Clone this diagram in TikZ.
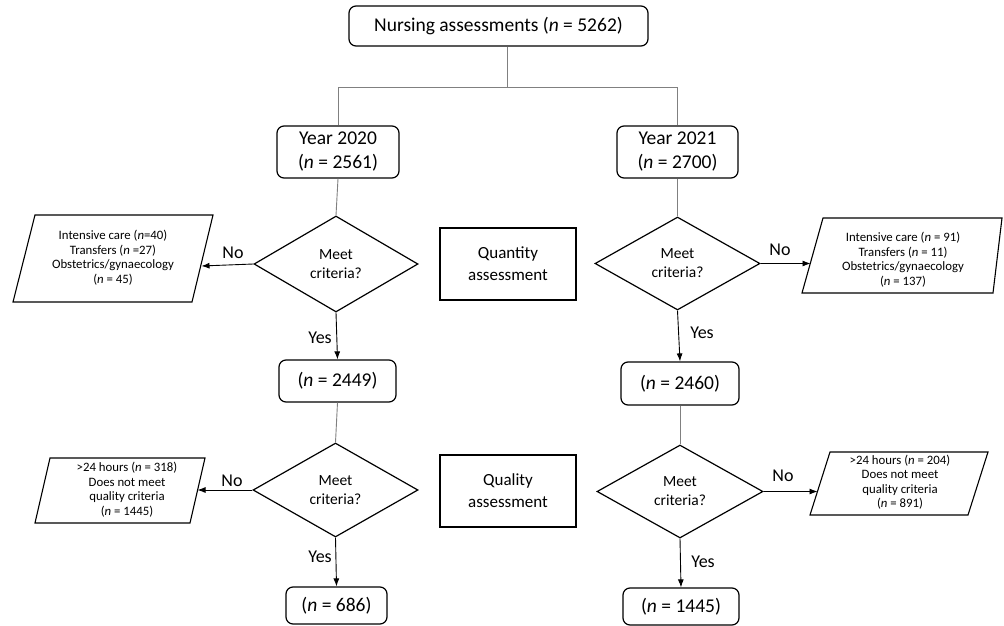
\documentclass[tikz,border=0pt]{standalone}
\usepackage{fontspec}
\setmainfont{Carlito}
\usetikzlibrary{shapes.geometric,arrows.meta}
\begin{document}
\begin{tikzpicture}[x=1pt,y=-1pt,
  rbox/.style={draw=black,line width=1.2pt,rounded corners=7pt,inner sep=0pt,align=center,font=\fontsize{19.5}{24}\selectfont},
  dia/.style={draw=black,line width=1.2pt,shape=diamond,aspect=1.7,inner sep=0pt,align=center,font=\fontsize{15.5}{19}\selectfont},
  abox/.style={draw=black,line width=1.8pt,inner sep=0pt,align=center,font=\fontsize{17}{22}\selectfont},
  para/.style={draw=black,line width=1.1pt},
  ptext/.style={inner sep=0pt,align=center,font=\fontsize{12.8}{14.5}\selectfont},
  conn/.style={draw=gray,line width=0.9pt},
  arr/.style={draw=black,line width=0.9pt,-{Latex[length=8pt,width=6pt]}},
  lab/.style={font=\fontsize{18}{20}\selectfont,inner sep=0pt}]
\useasboundingbox (0,0) rectangle (1004,626);

% main boxes
\node[rbox,minimum width=299pt,minimum height=40pt] (top) at (498.5,26) {Nursing assessments (\textit{n} = 5262)};
\node[rbox,minimum width=122pt,minimum height=52pt] (y20) at (338,152) {Year 2020\\(\textit{n} = 2561)};
\node[rbox,minimum width=121pt,minimum height=52pt] (y21) at (677.5,152) {Year 2021\\(\textit{n} = 2700)};

\node[dia,minimum width=164pt,minimum height=96pt] (d1) at (336,264) {Meet\\criteria?};
\node[dia,minimum width=165pt,minimum height=93pt] (d3) at (677.5,263.5) {Meet\\criteria?};

\node[rbox,minimum width=117pt,minimum height=42pt] (b2449) at (337.5,381) {(\textit{n} = 2449)};
\node[rbox,minimum width=118pt,minimum height=43pt] (b2460) at (680,383.5) {(\textit{n} = 2460)};

\node[dia,minimum width=165pt,minimum height=94pt] (d2) at (335.5,490) {Meet\\criteria?};
\node[dia,minimum width=166pt,minimum height=93pt] (d4) at (680,491.5) {Meet\\criteria?};

\node[rbox,minimum width=101pt,minimum height=37pt] (b686) at (336.5,605.5) {(\textit{n} = 686)};
\node[rbox,minimum width=116pt,minimum height=37pt] (b1445) at (681,606.5) {(\textit{n} = 1445)};

% assessment labels
\node[abox,minimum width=136pt,minimum height=72pt] (qa) at (508,264) {Quantity\\assessment};
\node[abox,minimum width=136pt,minimum height=72pt] (ql) at (508,491) {Quality\\assessment};

% parallelograms
\draw[para] (35,215) -- (213,215) -- (192,302) -- (13,302) -- cycle;
\node[ptext] (p1) at (113,257.5) {Intensive care (\textit{n}=40)\\Transfers (\textit{n} =27)\\Obstetrics/gynaecology\\(\textit{n} = 45)};
\coordinate (p1e) at (201.5,266);

\draw[para] (823,218) -- (1002,218) -- (993,293) -- (802,293) -- cycle;
\node[ptext] (p3) at (903,259.5) {Intensive care (\textit{n} = 91)\\Transfers (\textit{n} = 11)\\Obstetrics/gynaecology\\(\textit{n} = 137)};
\coordinate (p3w) at (810.5,263.5);

\draw[para] (50,458) -- (205,458) -- (190,523) -- (35,523) -- cycle;
\node[ptext] (p2) at (127,489.5) {>24 hours (\textit{n} = 318)\\Does not meet\\quality criteria\\(\textit{n} = 1445)};
\coordinate (p2e) at (197.5,490);

\draw[para] (830,452) -- (988,452) -- (968,515) -- (810,515) -- cycle;
\node[ptext] (p4) at (900,482) {>24 hours (\textit{n} = 204)\\Does not meet\\quality criteria\\(\textit{n} = 891)};
\coordinate (p4w) at (817.5,491.5);

% tree connectors
\coordinate (split) at (507,87);
\draw[conn] (top.south -| split) -- (split);
\draw[conn] (y20.north |- split) -- (y21.north |- split);
\draw[conn] (y20.north |- split) -- (y20.north);
\draw[conn] (y21.north |- split) -- (y21.north);
\draw[conn] (y20.south) -- (d1.north);
\draw[conn] (y21.south) -- (d3.north);
\draw[conn] (b2449.south) -- (d2.north);
\draw[conn] (b2460.south) -- (d4.north);

% arrows
\draw[arr] (d1.south) -- (b2449.north);
\draw[arr] (d3.south) -- (b2460.north);
\draw[arr] (d2.south) -- (b686.north);
\draw[arr] (d4.south) -- (b1445.north);
\draw[arr] (d1.west) -- (p1e);
\draw[arr] (d3.east) -- (p3w);
\draw[arr] (d2.west) -- (p2e);
\draw[arr] (d4.east) -- (p4w);

% labels
\node[lab] (no1) at (233,253) {No};
\node[lab] (no3) at (780,250) {No};
\node[lab] (no2) at (232,481) {No};
\node[lab] (no4) at (783,476) {No};
\node[lab] (yes1) at (320,338) {Yes};
\node[lab] (yes2) at (320,557) {Yes};
\node[lab] (yes3) at (702,333) {Yes};
\node[lab] (yes4) at (703,562) {Yes};
\end{tikzpicture}
\end{document}
